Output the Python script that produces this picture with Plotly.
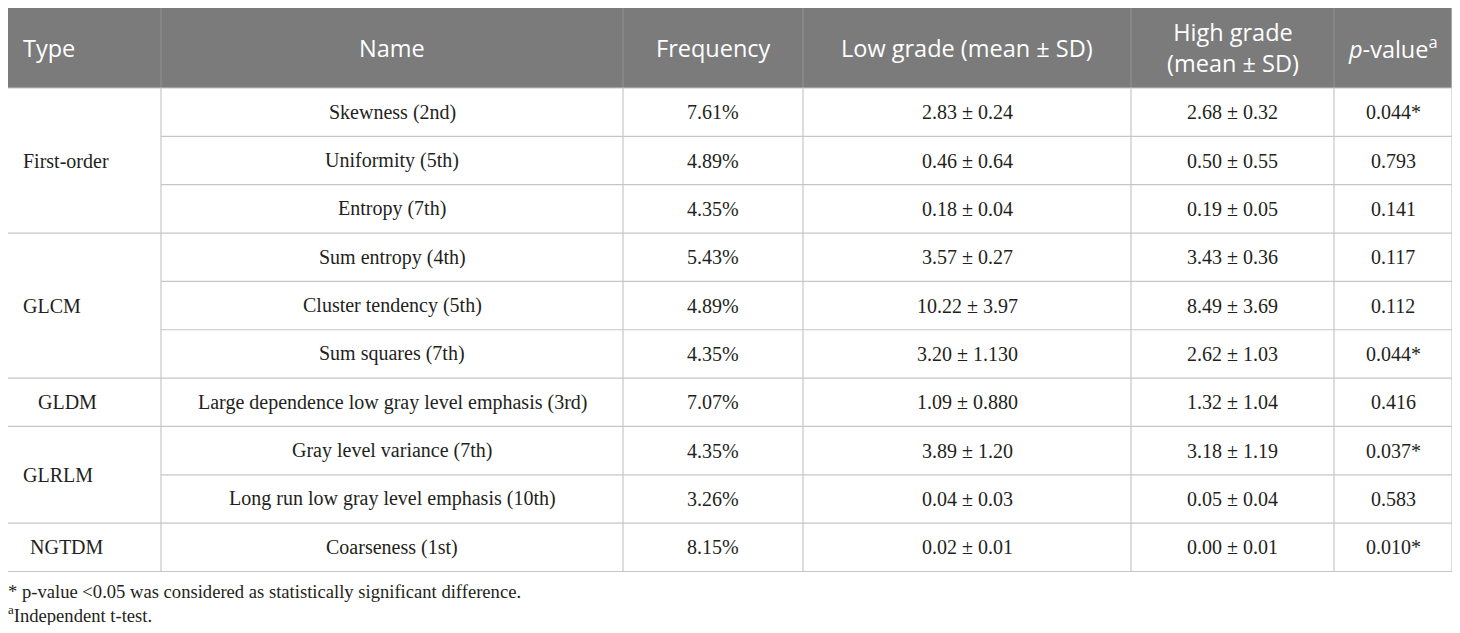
import plotly.graph_objects as go

# ---------------- data ----------------
headers = ["Type", "Name", "Frequency", "Low grade (mean ± SD)",
           "High grade<br>(mean ± SD)", "<i>p</i>-value<sup>a</sup>"]
types = ["First-order", "GLCM", "GLDM", "GLRLM", "NGTDM"]
type_spans = [3, 3, 1, 2, 1]
names = ["Skewness (2nd)", "Uniformity (5th)", "Entropy (7th)",
         "Sum entropy (4th)", "Cluster tendency (5th)", "Sum squares (7th)",
         "Large dependence low gray level emphasis (3rd)",
         "Gray level variance (7th)", "Long run low gray level emphasis (10th)",
         "Coarseness (1st)"]
frequency = ["7.61%", "4.89%", "4.35%", "5.43%", "4.89%", "4.35%",
             "7.07%", "4.35%", "3.26%", "8.15%"]
low_grade = ["2.83 ± 0.24", "0.46 ± 0.64", "0.18 ± 0.04", "3.57 ± 0.27",
             "10.22 ± 3.97", "3.20 ± 1.130", "1.09 ± 0.880", "3.89 ± 1.20",
             "0.04 ± 0.03", "0.02 ± 0.01"]
high_grade = ["2.68 ± 0.32", "0.50 ± 0.55", "0.19 ± 0.05", "3.43 ± 0.36",
              "8.49 ± 3.69", "2.62 ± 1.03", "1.32 ± 1.04", "3.18 ± 1.19",
              "0.05 ± 0.04", "0.00 ± 0.01"]
p_values = ["0.044*", "0.793", "0.141", "0.117", "0.112", "0.044*",
            "0.416", "0.037*", "0.583", "0.010*"]
footnotes = ["* p-value <0.05 was considered as statistically significant difference.",
             "<sup>a</sup>Independent t-test."]

# ---------------- layout (page pixel coordinates) ----------------
W, H = 1460, 633
PAGE_OFF = 8  # default body margin of the html page
col_edges = [7, 161, 623, 803, 1131, 1334, 1452]
top = 7
header_h = 81
row_h = 48.35
type_indent = [14, 14, 29, 14, 21]
HEADER_BG = "#7b7b7b"
GRID = "#c6c6c6"
SERIF = "Liberation Serif"
SANS = "Open Sans"
BODY_SIZE = 20
HEAD_SIZE = 23.5
FOOT_SIZE = 18.6
TEXT = "#231f20"

n_rows = len(names)
body_top = top + header_h
bottom = body_top + n_rows * row_h

shapes = []
annotations = []

# header background
shapes.append(dict(type="rect", x0=col_edges[0], x1=col_edges[-1], y0=top, y1=body_top,
                   fillcolor=HEADER_BG, line=dict(width=0), layer="below"))

# header vertical separators
for x in col_edges[1:-1]:
    shapes.append(dict(type="line", x0=x, x1=x, y0=top, y1=body_top,
                       line=dict(color="#929292", width=1)))

# body vertical lines
for x in col_edges:
    shapes.append(dict(type="line", x0=x, x1=x, y0=body_top, y1=bottom,
                       line=dict(color=GRID, width=1.2)))
# outer border of header
for x in (col_edges[0], col_edges[-1]):
    shapes.append(dict(type="line", x0=x, x1=x, y0=top, y1=body_top,
                       line=dict(color=GRID, width=1.2)))
shapes.append(dict(type="line", x0=col_edges[0], x1=col_edges[-1], y0=top, y1=top,
                   line=dict(color=GRID, width=1.2)))

# horizontal lines
group_bounds = set()
acc = 0
for s in type_spans:
    acc += s
    group_bounds.add(acc)
for i in range(n_rows + 1):
    y = body_top + i * row_h
    x0 = col_edges[0] if (i == 0 or i in group_bounds) else col_edges[1]
    shapes.append(dict(type="line", x0=x0, x1=col_edges[-1], y0=y, y1=y,
                       line=dict(color=GRID, width=1.2)))

# header text
for j, h in enumerate(headers):
    if j == 0:
        annotations.append(dict(x=col_edges[0] + 14, y=top + header_h / 2, text=h,
                                xanchor="left", yanchor="middle", showarrow=False,
                                font=dict(family=SANS, size=HEAD_SIZE, color="white")))
    else:
        annotations.append(dict(x=(col_edges[j] + col_edges[j + 1]) / 2,
                                y=top + header_h / 2, text=h,
                                xanchor="center", yanchor="middle", showarrow=False,
                                font=dict(family=SANS, size=HEAD_SIZE, color="white")))

# type column
r = 0
for t, s, ind in zip(types, type_spans, type_indent):
    yc = body_top + (r + s / 2) * row_h
    annotations.append(dict(x=col_edges[0] + ind, y=yc, text=t, xanchor="left",
                            yanchor="middle", showarrow=False,
                            font=dict(family=SERIF, size=BODY_SIZE, color=TEXT)))
    r += s

# body cells
columns = [names, frequency, low_grade, high_grade, p_values]
for j, col in enumerate(columns, start=1):
    xc = (col_edges[j] + col_edges[j + 1]) / 2
    for i, v in enumerate(col):
        annotations.append(dict(x=xc, y=body_top + (i + 0.5) * row_h, text=v,
                                xanchor="center", yanchor="middle", showarrow=False,
                                font=dict(family=SERIF, size=BODY_SIZE, color=TEXT)))

# footnotes (anchored inside the axis range, shifted to the table's left edge)
for k, f in enumerate(footnotes):
    annotations.append(dict(x=col_edges[0] + 10, xshift=-11, y=bottom + 20 + k * 22,
                            text=f, xanchor="left", yanchor="middle", showarrow=False,
                            font=dict(family=SERIF, size=FOOT_SIZE, color=TEXT)))

fig = go.Figure()
fig.update_layout(
    width=W - PAGE_OFF, height=H - 2 * PAGE_OFF,
    margin=dict(l=0, r=0, t=0, b=0),
    paper_bgcolor="white", plot_bgcolor="white",
    xaxis=dict(range=[PAGE_OFF, W], visible=False, fixedrange=True),
    yaxis=dict(range=[H - PAGE_OFF, PAGE_OFF], visible=False, fixedrange=True),
    shapes=shapes, annotations=annotations, showlegend=False,
)
fig.write_html("out.html")
